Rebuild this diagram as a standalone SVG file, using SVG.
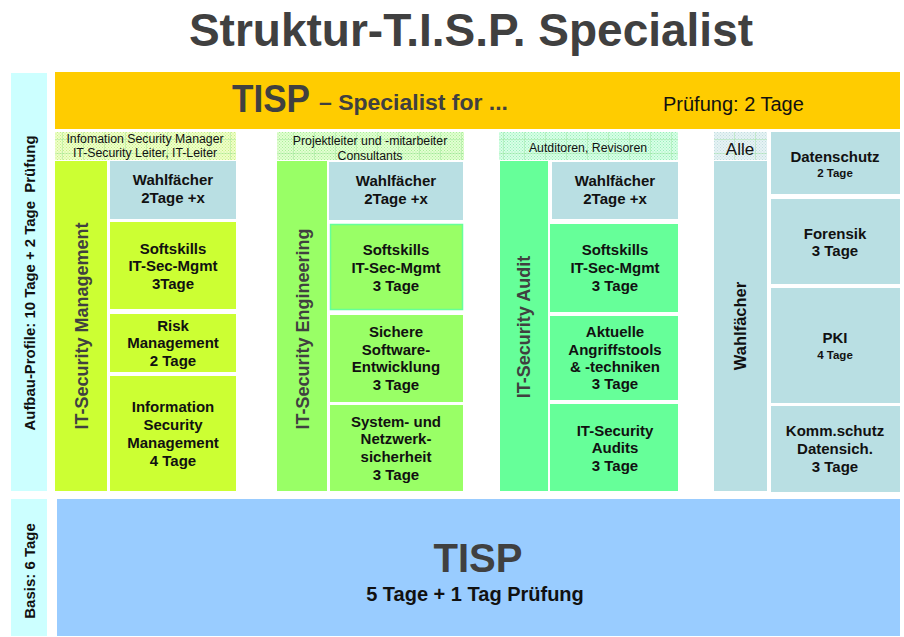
<svg xmlns="http://www.w3.org/2000/svg" width="904" height="637" viewBox="0 0 904 637">
<style>
text{font-family:"Liberation Sans",Arial,sans-serif;}
.b{font-weight:bold;font-size:15px;fill:#111;text-anchor:middle;}
.s{font-weight:bold;font-size:11.5px;fill:#111;text-anchor:middle;}
.l{font-size:12.3px;fill:#111;text-anchor:middle;}
.v{font-weight:bold;font-size:18px;fill:#404040;text-anchor:middle;}
.lime{fill:#CCFF33;}
.grn{fill:#99FF66;}
.mint{fill:#66FF99;}
.gray{fill:#B9DFE3;}
</style>
<defs>
<pattern id="dotA" width="3" height="3" patternUnits="userSpaceOnUse"><rect width="3" height="3" fill="#EEFFC8"/><rect width="1" height="1" fill="#C8EE88"/><rect x="1.5" y="1.5" width="1" height="1" fill="#C8EE88"/></pattern>
<pattern id="dotB" width="3" height="3" patternUnits="userSpaceOnUse"><rect width="3" height="3" fill="#E2FFD2"/><rect width="1" height="1" fill="#AAEE99"/><rect x="1.5" y="1.5" width="1" height="1" fill="#AAEE99"/></pattern>
<pattern id="dotC" width="3" height="3" patternUnits="userSpaceOnUse"><rect width="3" height="3" fill="#D8FFE6"/><rect width="1" height="1" fill="#99EEBB"/><rect x="1.5" y="1.5" width="1" height="1" fill="#99EEBB"/></pattern>
<pattern id="dotD" width="3" height="3" patternUnits="userSpaceOnUse"><rect width="3" height="3" fill="#E6F3F4"/><rect width="1" height="1" fill="#C2DDE0"/><rect x="1.5" y="1.5" width="1" height="1" fill="#C2DDE0"/></pattern>
<pattern id="grid" width="21" height="14" patternUnits="userSpaceOnUse"><path d="M0 13.5H21M20.5 0V14" stroke="#88DD88" stroke-opacity="0.35" fill="none"/></pattern>
</defs>

<g id="title"><text x="471" y="46" font-size="46" font-weight="bold" fill="#404040" text-anchor="middle">Struktur-T.I.S.P. Specialist</text></g>

<g id="side-aufbau"><rect x="11" y="73" width="36" height="418" fill="#CCFFFF"/>
<text transform="translate(35,283) rotate(-90)" font-size="14" font-weight="bold" fill="#111" text-anchor="middle" textLength="295" lengthAdjust="spacingAndGlyphs" xml:space="preserve">Aufbau-Profile: 10 Tage + 2 Tage  Prüfung</text></g>

<g id="side-basis"><rect x="11" y="499" width="36" height="137" fill="#CCFFFF"/>
<text transform="translate(35,571) rotate(-90)" font-size="15" font-weight="bold" fill="#111" text-anchor="middle">Basis: 6 Tage</text></g>

<g id="specialist-band"><rect x="55" y="72" width="845" height="57" fill="#FFCC00"/>
<text x="232" y="112" font-size="38" font-weight="bold" fill="#404040" textLength="78" lengthAdjust="spacingAndGlyphs">TISP</text>
<text x="319" y="110" font-size="22" font-weight="bold" fill="#404040" textLength="189" lengthAdjust="spacingAndGlyphs">– Specialist for ...</text>
<text x="663" y="111" font-size="20" fill="#111">Prüfung: 2 Tage</text></g>

<g id="col-management">
<rect x="55" y="132" width="181" height="28" fill="url(#dotA)"/><rect x="55" y="132" width="181" height="28" fill="url(#grid)"/>
<text class="l" x="145" y="143">Infomation Security Manager</text>
<text class="l" x="145" y="157">IT-Security Leiter, IT-Leiter</text>
<rect class="lime" x="55" y="161" width="52" height="330"/>
<text class="v" transform="translate(88,326) rotate(-90)">IT-Security Management</text>
<rect class="gray" x="110" y="161" width="126" height="58"/>
<text class="b" x="173" y="185">Wahlfächer</text><text class="b" x="173" y="203">2Tage +x</text>
<rect class="lime" x="110" y="222" width="126" height="87"/>
<text class="b" x="173" y="254">Softskills</text><text class="b" x="173" y="271">IT-Sec-Mgmt</text><text class="b" x="173" y="289">3Tage</text>
<rect class="lime" x="110" y="314" width="126" height="58"/>
<text class="b" x="173" y="331">Risk</text><text class="b" x="173" y="348">Management</text><text class="b" x="173" y="366">2 Tage</text>
<rect class="lime" x="110" y="376" width="126" height="115"/>
<text class="b" x="173" y="412">Information</text><text class="b" x="173" y="430">Security</text><text class="b" x="173" y="448">Management</text><text class="b" x="173" y="466">4 Tage</text>
</g>

<g id="col-engineering">
<rect x="277" y="132" width="187" height="28" fill="url(#dotB)"/><rect x="277" y="132" width="187" height="28" fill="url(#grid)"/>
<text class="l" x="370" y="145">Projektleiter und -mitarbeiter</text>
<text class="l" x="370" y="160">Consultants</text>
<rect class="grn" x="277" y="161" width="50" height="330"/>
<text class="v" transform="translate(309,329) rotate(-90)">IT-Security Engineering</text>
<rect class="gray" x="329" y="162" width="134" height="58"/>
<text class="b" x="396" y="186">Wahlfächer</text><text class="b" x="396" y="204">2Tage +x</text>
<rect class="grn" x="330.5" y="224.5" width="132" height="85" stroke="#66FF99" stroke-width="1.5"/>
<text class="b" x="396" y="255">Softskills</text><text class="b" x="396" y="273">IT-Sec-Mgmt</text><text class="b" x="396" y="291">3 Tage</text>
<rect class="grn" x="330" y="315" width="133" height="87"/>
<text class="b" x="396" y="337">Sichere</text><text class="b" x="396" y="355">Software-</text><text class="b" x="396" y="372">Entwicklung</text><text class="b" x="396" y="390">3 Tage</text>
<rect class="grn" x="330" y="405" width="133" height="86"/>
<text class="b" x="396" y="427">System- und</text><text class="b" x="396" y="444">Netzwerk-</text><text class="b" x="396" y="462">sicherheit</text><text class="b" x="396" y="480">3 Tage</text>
</g>

<g id="col-audit">
<rect x="499" y="132" width="179" height="28" fill="url(#dotC)"/><rect x="499" y="132" width="179" height="28" fill="url(#grid)"/>
<text class="l" x="588" y="152">Autditoren, Revisoren</text>
<rect class="mint" x="500" y="161" width="48" height="330"/>
<text class="v" transform="translate(530,327) rotate(-90)">IT-Security Audit</text>
<rect class="gray" x="552" y="162" width="126" height="57"/>
<text class="b" x="615" y="186">Wahlfächer</text><text class="b" x="615" y="204">2Tage +x</text>
<rect class="mint" x="550" y="224" width="128" height="88"/>
<text class="b" x="615" y="255">Softskills</text><text class="b" x="615" y="273">IT-Sec-Mgmt</text><text class="b" x="615" y="291">3 Tage</text>
<rect class="mint" x="550" y="316" width="128" height="84"/>
<text class="b" x="615" y="337">Aktuelle</text><text class="b" x="615" y="355">Angriffstools</text><text class="b" x="615" y="372">&amp; -techniken</text><text class="b" x="615" y="389">3 Tage</text>
<rect class="mint" x="550" y="404" width="128" height="87"/>
<text class="b" x="615" y="436">IT-Security</text><text class="b" x="615" y="453">Audits</text><text class="b" x="615" y="471">3 Tage</text>
</g>

<g id="col-wahl">
<rect x="714" y="132" width="53" height="28" fill="url(#dotD)"/><rect x="714" y="132" width="53" height="28" fill="url(#grid)"/>
<text x="740" y="155" font-size="17" fill="#111" text-anchor="middle">Alle</text>
<rect class="gray" x="714" y="161" width="53" height="330"/>
<text transform="translate(746,326) rotate(-90)" font-size="16.5" font-weight="bold" fill="#111" text-anchor="middle">Wahlfächer</text>
<rect class="gray" x="771" y="132" width="129" height="62"/>
<text class="b" x="835" y="162">Datenschutz</text><text class="s" x="835" y="177">2 Tage</text>
<rect class="gray" x="771" y="199" width="129" height="85"/>
<text class="b" x="835" y="239">Forensik</text><text class="b" x="835" y="256">3 Tage</text>
<rect class="gray" x="771" y="288" width="129" height="115"/>
<text class="b" x="835" y="343">PKI</text><text class="s" x="835" y="359">4 Tage</text>
<rect class="gray" x="771" y="406" width="129" height="86"/>
<text class="b" x="835" y="436">Komm.schutz</text><text class="b" x="835" y="454">Datensich.</text><text class="b" x="835" y="472">3 Tage</text>
</g>

<g id="basis"><rect x="57" y="499" width="843" height="137" fill="#99CCFF"/>
<text x="478" y="572" font-size="40" font-weight="bold" fill="#404040" text-anchor="middle" textLength="89" lengthAdjust="spacingAndGlyphs">TISP</text>
<text x="475" y="601" font-size="20" font-weight="bold" fill="#111" text-anchor="middle">5 Tage + 1 Tag Prüfung</text></g>

<g id="connectors"></g>
</svg>
